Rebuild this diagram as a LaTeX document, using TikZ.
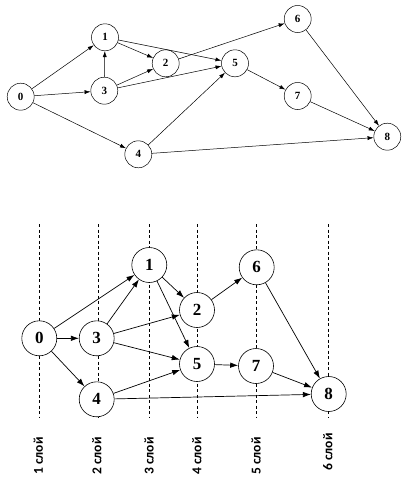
\documentclass[tikz,border=0pt]{standalone}
\usepackage{fontspec}
\setmainfont{Liberation Serif}
\newfontfamily\lblfont{Carlito}
\usetikzlibrary{arrows.meta}
\begin{document}
\begin{tikzpicture}[x=1pt,y=-1pt,
  tnode/.style={circle,draw,fill=white,line width=0.5pt,minimum size=27pt,inner sep=0pt,font=\fontsize{11}{11}\selectfont\bfseries},
  bnode/.style={circle,draw,fill=white,line width=0.6pt,minimum size=35pt,inner sep=0pt,font=\fontsize{17}{17}\selectfont\bfseries},
  tedge/.style={line width=0.5pt,-{Latex[length=6pt,width=4pt]}},
  bedge/.style={line width=0.7pt,-{Latex[length=8pt,width=5.5pt]}},
  layer/.style={dashed,line width=0.5pt,dash pattern=on 3pt off 2.5pt},
  lbl/.style={rotate=90,font=\fontsize{13.5}{13.5}\selectfont\lblfont\bfseries}]
\useasboundingbox (0,0) rectangle (408,488);
% top graph
\node[tnode] (t0) at (20.7,96.7) {0};
\node[tnode] (t1) at (105,37.3) {1};
\node[tnode] (t2) at (165.7,63.3) {2};
\node[tnode] (t3) at (104.3,90.7) {3};
\node[tnode] (t4) at (138.3,154.3) {4};
\node[tnode] (t5) at (235,63.3) {5};
\node[tnode] (t6) at (297.7,19) {6};
\node[tnode] (t7) at (297.7,96) {7};
\node[tnode] (t8) at (387.3,136.7) {8};
\draw[tedge] (t0) -- (t1);
\draw[tedge] (t0) -- (t3);
\draw[tedge] (t0) -- (t4);
\draw[tedge] (t3) -- (t1);
\draw[tedge] (t1) -- (t2);
\draw[tedge] (t1) -- (t5);
\draw[tedge] (t3) -- (t2);
\draw[tedge] (t3) -- (t5);
\draw[tedge] (t2) -- (t6);
\draw[tedge] (t4) -- (t5);
\draw[tedge] (t4) -- (t8);
\draw[tedge] (t5) -- (t7);
\draw[tedge] (t6) -- (t8);
\draw[tedge] (t7) -- (t8);
% layer lines
\foreach \i/\x in {1/39.3,2/98.3,3/149,4/197.7,5/256,6/328.3}{
  \coordinate (la\i) at (\x,224);
  \coordinate (lb\i) at (\x,418);
  \draw[layer] (la\i) -- (lb\i);
}
% bottom graph
\node[bnode] (b0) at (39.3,338.3) {0};
\node[bnode] (b1) at (149.3,265) {1};
\node[bnode] (b2) at (197,310) {2};
\node[bnode] (b3) at (96.7,338.3) {3};
\node[bnode] (b4) at (96.7,399.3) {4};
\node[bnode] (b5) at (197,364) {5};
\node[bnode] (b6) at (256.7,267.3) {6};
\node[bnode] (b7) at (256,366) {7};
\node[bnode] (b8) at (328.7,394) {8};
\draw[bedge] (b0) -- (b1);
\draw[bedge] (b0) -- (b3);
\draw[bedge] (b0) -- (b4);
\draw[bedge] (b3) -- (b1);
\draw[bedge] (b3) -- (b2);
\draw[bedge] (b3) -- (b5);
\draw[bedge] (b1) -- (b2);
\draw[bedge] (b1) -- (b5);
\draw[bedge] (b2) -- (b6);
\draw[bedge] (b4) -- (b5);
\draw[bedge] (b4) -- (b8);
\draw[bedge] (b5) -- (b7);
\draw[bedge] (b6) -- (b8);
\draw[bedge] (b7) -- (b8);
% layer labels
\node[lbl] (s1) at (38.3,456) {1 слой};
\node[lbl] (s2) at (96.7,456) {2 слой};
\node[lbl] (s3) at (149,456) {3 слой};
\node[lbl] (s4) at (196.7,456) {4 слой};
\node[lbl] (s5) at (256,456) {5 слой};
\node[lbl] (s6) at (327.7,452) {6 слой};
\end{tikzpicture}
\end{document}
